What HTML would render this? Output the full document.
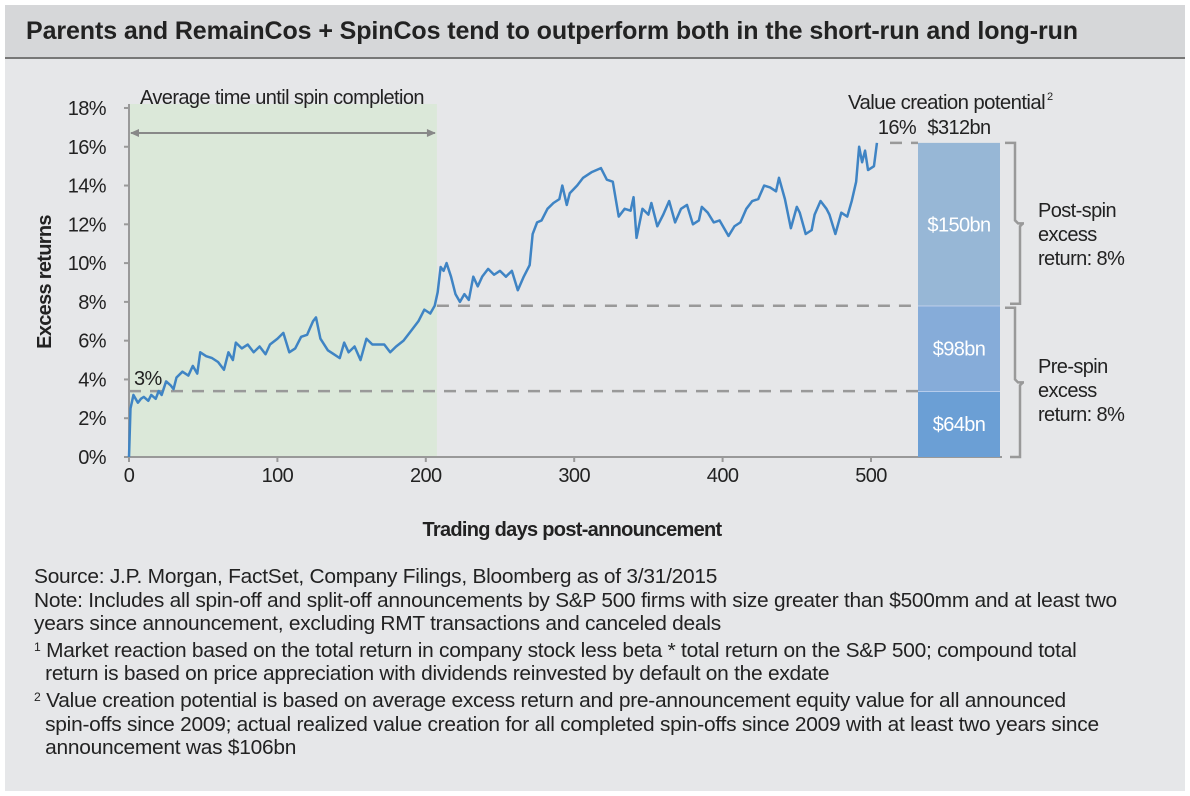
<!DOCTYPE html>
<html><head><meta charset="utf-8"><style>
body{margin:0;background:#fff;font-family:"Liberation Sans",sans-serif;}
#wrap{position:relative;width:1190px;height:796px;background:#fff;overflow:hidden}
#panel{position:absolute;left:5px;top:5px;width:1180px;height:786px;background:#e6e7e9}
#title{position:absolute;left:5px;top:5px;width:1180px;height:52px;background:#d6d7d9;border-bottom:2px solid #777}
#title div{position:absolute;left:21px;top:12px;font-size:25px;font-weight:bold;color:#222;letter-spacing:-0.1px}
.notes{position:absolute;left:34px;top:565px;font-size:20.6px;color:#222;line-height:23.6px;letter-spacing:-0.25px;transform:scaleX(1.015);transform-origin:0 0;white-space:nowrap}
</style></head><body>
<div id="wrap">
<div id="panel"></div>
<div id="title"><div>Parents and RemainCos + SpinCos tend to outperform both in the short-run and long-run</div></div>
<svg id="chart" width="1190" height="560" style="position:absolute;left:0;top:0"></svg>
<div class="notes">
Source: J.P. Morgan, FactSet, Company Filings, Bloomberg as of 3/31/2015<br>
Note: Includes all spin-off and split-off announcements by S&amp;P 500 firms with size greater than $500mm and at least two<br>years since announcement, excluding RMT transactions and canceled deals<br>
<span style="font-size:12px;vertical-align:6px">1</span> Market reaction based on the total return in company stock less beta * total return on the S&amp;P 500; compound total<br>&nbsp;&nbsp;return is based on price appreciation with dividends reinvested by default on the exdate<br>
<span style="font-size:12px;vertical-align:6px">2</span> Value creation potential is based on average excess return and pre-announcement equity value for all announced<br>&nbsp;&nbsp;spin-offs since 2009; actual realized value creation for all completed spin-offs since 2009 with at least two years since<br>&nbsp;&nbsp;announcement was $106bn
</div>
</div>
<script>
const days=[0,1,3,6,8,10,13,15,18,20,22,25,28,30,32,36,40,43,46,48,52,56,60,64,67,70,72,76,80,84,88,92,95,100,104,108,112,116,120,124,126,129,134,138,142,145,148,152,156,160,164,168,172,176,180,185,190,195,199,203,206,208,210,212,214,217,220,223,226,229,232,235,238,242,246,250,254,258,262,266,270,272,275,278,282,286,290,292,295,297,302,306,312,318,322,326,330,334,338,340,342,346,350,352,356,360,364,368,372,376,380,384,386,390,394,398,404,408,412,416,420,424,428,432,436,438,442,446,450,452,456,460,462,466,470,472,476,480,484,487,490,492,494,496,498,502,504];
const returns=[0,2.5,3.2,2.8,3.0,3.1,2.9,3.2,3.0,3.4,3.2,3.9,3.7,3.5,4.1,4.4,4.2,4.7,4.3,5.4,5.2,5.1,4.9,4.5,5.4,5.0,5.9,5.6,5.8,5.4,5.7,5.3,5.8,6.1,6.4,5.4,5.6,6.2,6.3,7.0,7.2,6.1,5.5,5.3,5.1,5.9,5.4,5.7,5.0,6.1,5.8,5.8,5.8,5.4,5.7,6.0,6.5,7.0,7.6,7.4,7.8,8.5,9.8,9.6,10.0,9.3,8.4,8.0,8.4,8.1,9.3,8.8,9.3,9.7,9.4,9.6,9.3,9.6,8.6,9.3,9.9,11.5,12.1,12.2,12.8,13.1,13.3,14.0,13.0,13.6,14.0,14.4,14.7,14.9,14.3,14.2,12.4,12.8,12.7,13.4,11.3,12.8,12.5,13.1,11.9,12.5,13.2,12.1,12.8,13.0,12.0,12.2,12.9,12.6,12.1,12.2,11.4,11.9,12.1,12.8,13.2,13.3,14.0,13.9,13.7,14.4,13.3,11.8,12.9,12.6,11.5,11.7,12.5,13.2,12.8,12.5,11.5,12.6,12.4,13.2,14.2,16.0,15.2,15.8,14.8,15.0,16.2];
const yTicks=[0,2,4,6,8,10,12,14,16,18];
const xTicks=[0,100,200,300,400,500];
const segValues=[3.4,7.8,16.2];
const segLabels=["$64bn","$98bn","$150bn"];
const spinDay=207.5;
const X=d=>129+d*1.484, Y=v=>457-v*19.39;
const svg=document.getElementById('chart');const NS='http://www.w3.org/2000/svg';
function mk(t,a,txt){const e=document.createElementNS(NS,t);for(const k in a)e.setAttribute(k,a[k]);if(txt!==undefined)e.textContent=txt;svg.appendChild(e);return e;}
const F='"Liberation Sans",sans-serif';
function txt(x,y,s,opts){const a=Object.assign({x:x,y:y,'font-size':20,fill:'#222','font-family':F,'letter-spacing':'-0.6'},opts||{});return mk('text',a,s);}
let e;
e=mk('rect',{x:X(0),y:104,width:X(spinDay)-X(0),height:353,fill:'#dbe8d9'});

e=mk('line',{x1:X(0)+2,y1:133,x2:X(spinDay)-2,y2:133,stroke:'#888','stroke-width':2});

mk('path',{d:`M${X(0)+1} 133 l9 -4 v8z M${X(spinDay)-1} 133 l-9 -4 v8z`,fill:'#888'});
e=txt((X(0)+X(spinDay))/2-1,104,'Average time until spin completion',{'text-anchor':'middle'});

e=mk('line',{x1:129,y1:104,x2:129,y2:458,stroke:'#999','stroke-width':2});

e=mk('line',{x1:128,y1:457,x2:1002,y2:457,stroke:'#999','stroke-width':2});

yTicks.forEach(v=>{mk('line',{x1:124,y1:Y(v),x2:129,y2:Y(v),stroke:'#999','stroke-width':2});
e=txt(106,Y(v)+7,v+'%',{'text-anchor':'end'});
});
xTicks.forEach(v=>{mk('line',{x1:X(v),y1:457,x2:X(v),y2:462,stroke:'#999','stroke-width':2});
e=txt(X(v),482,v,{'text-anchor':'middle'});
});
e=txt(572,536,'Trading days post-announcement',{'text-anchor':'middle','font-weight':'bold','letter-spacing':'-0.7'});

e=txt(0,0,'Excess returns',{transform:'translate(51,282) rotate(-90)','text-anchor':'middle','font-weight':'bold','letter-spacing':'-0.7'});

const bx=918,bw=82;const cols=['#6b9fd5','#86acd9','#97b7d6'];
let prev=0;segValues.forEach((v,i)=>{
e=mk('rect',{x:bx,y:Y(v),width:bw,height:Y(prev)-Y(v),fill:cols[i]});

if(i<2)mk('line',{x1:bx,y1:Y(v),x2:bx+bw,y2:Y(v),stroke:'#eef','stroke-width':1});
e=txt(bx+bw/2,(Y(v)+Y(prev))/2+7,segLabels[i],{'text-anchor':'middle',fill:'#fff'});

prev=v;});
[[X(0),segValues[0]],[X(spinDay),segValues[1]],[890,segValues[2]]].forEach(([x0,v])=>{
e=mk('line',{x1:x0,y1:Y(v),x2:bx,y2:Y(v),stroke:'#999','stroke-width':2.5,'stroke-dasharray':'12 9'});
});
function brace(y1,y2){const x=1005;mk('path',{d:`M${x} ${y1} h10 v${(y2-y1)/2-3} l3 3 h6 M${x+18} ${(y1+y2)/2} l-3 3 v${(y2-y1)/2-3} h-10`,fill:'none',stroke:'#999','stroke-width':2.5});}
brace(Y(segValues[2]),Y(segValues[1])-2);brace(Y(segValues[1])+2,457);
[['Post-spin',210],['excess',234],['return: 8%',258],['Pre-spin',366],['excess',390],['return: 8%',414]].forEach(([t,y])=>{
e=txt(1038,y+7,t);
});
e=txt(848,109,'Value creation potential',{'textLength':197,'lengthAdjust':'spacingAndGlyphs'});

e=txt(1047,100,'2',{'font-size':11,'letter-spacing':'0'});
e=txt(959,134,'$312bn',{'text-anchor':'middle'});

e=txt(897,134,'16%',{'text-anchor':'middle'});

e=txt(134,385,'3%');

e=mk('polyline',{points:days.map((d,i)=>X(d)+','+Y(returns[i])).join(' '),fill:'none',stroke:'#3f84c4','stroke-width':2.5,'stroke-linejoin':'round'});

</script>
</body></html>
